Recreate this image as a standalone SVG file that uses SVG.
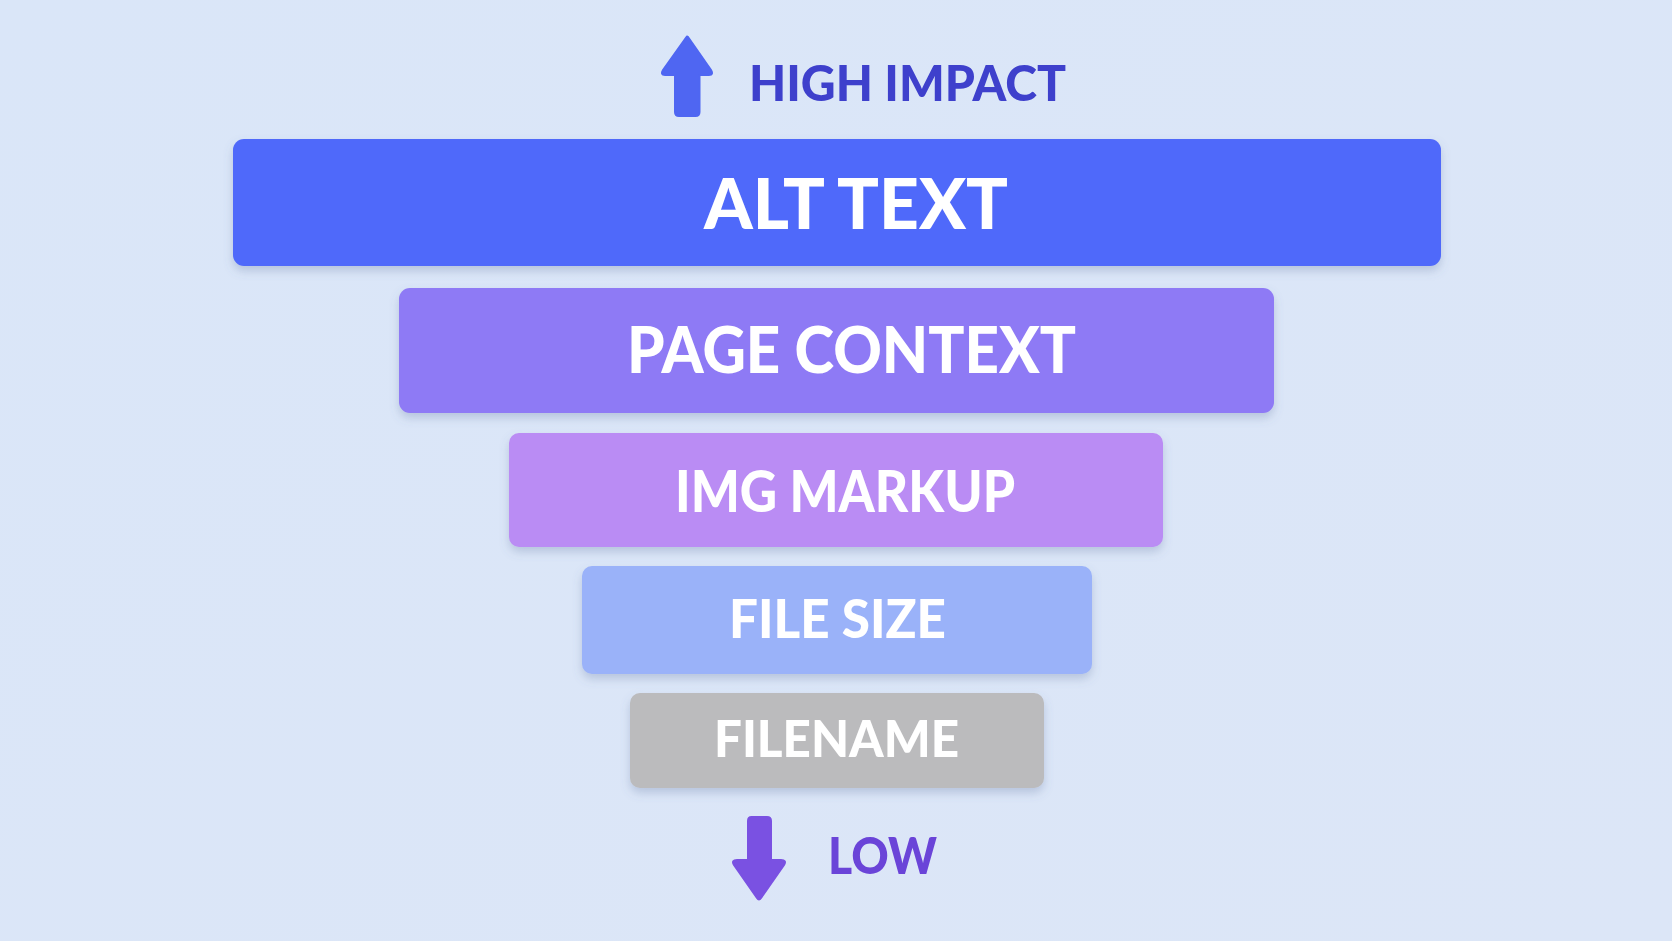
<svg xmlns="http://www.w3.org/2000/svg" width="1672" height="941" viewBox="0 0 1672 941">
  <defs>
    <linearGradient id="bg" x1="0" y1="0" x2="1" y2="1">
      <stop offset="0" stop-color="#DAE6F8"/>
      <stop offset="1" stop-color="#DCE6F7"/>
    </linearGradient>
    <filter id="sh" x="-10%" y="-30%" width="120%" height="170%">
      <feDropShadow dx="0" dy="5" stdDeviation="5" flood-color="#5a6e9a" flood-opacity="0.28"/>
    </filter>
  </defs>
  <style>
    .lbl { font-family: Lato, "Noto Sans", "Liberation Sans", sans-serif; font-weight: 900; fill: #FFFFFF; }
    .ax { font-family: Lato, "Noto Sans", "Liberation Sans", sans-serif; font-weight: 900; }
  </style>
  <rect x="0" y="0" width="1672" height="941" fill="url(#bg)"/>

  <g id="node-alt-text">
    <rect x="233" y="139" width="1208" height="127" rx="11" fill="#5069FA" filter="url(#sh)"/>
    <text class="lbl" x="704" y="229" font-size="70" textLength="304" lengthAdjust="spacingAndGlyphs">ALT TEXT</text>
  </g>
  <g id="node-page-context">
    <rect x="399" y="288" width="875" height="125" rx="11" fill="#8E7AF5" filter="url(#sh)"/>
    <text class="lbl" x="627" y="373" font-size="65" textLength="449" lengthAdjust="spacingAndGlyphs">PAGE CONTEXT</text>
  </g>
  <g id="node-img-markup">
    <rect x="509" y="433" width="654" height="114" rx="10" fill="#BA8CF4" filter="url(#sh)"/>
    <text class="lbl" x="675" y="512" font-size="58" textLength="340" lengthAdjust="spacingAndGlyphs">IMG MARKUP</text>
  </g>
  <g id="node-file-size">
    <rect x="582" y="566" width="510" height="108" rx="10" fill="#9AB2F9" filter="url(#sh)"/>
    <text class="lbl" x="729" y="638" font-size="53" textLength="217" lengthAdjust="spacingAndGlyphs">FILE SIZE</text>
  </g>
  <g id="node-filename">
    <rect x="630" y="693" width="414" height="95" rx="10" fill="#BBBBBD" filter="url(#sh)"/>
    <text class="lbl" x="714" y="757" font-size="51" textLength="245" lengthAdjust="spacingAndGlyphs">FILENAME</text>
  </g>

  <g id="connectors">
    <g id="arrow-up">
      <path d="M686.5 37 Q687 36 688 37 L711 70 Q714 75 709 75 L699.5 75 L699.5 112 Q699.5 116 695.5 116 L679 116 Q675 116 675 112 L675 75 L665 75 Q660 75 663 70 Z" fill="#4F66F2" stroke="#4F66F2" stroke-width="2" stroke-linejoin="round"/>
    </g>
    <g id="arrow-down">
      <path d="M751.5 817 L767 817 Q771 817 771 821 L771 860 L781 860 Q787 860 784 865 L761 898 Q759 901 757 898 L734 865 Q731 860 737 860 L748 860 L748 821 Q748 817 751.5 817 Z" fill="#7A51E2" stroke="#7A51E2" stroke-width="2" stroke-linejoin="round"/>
    </g>
  </g>

  <g id="label-high">
    <text class="ax" x="749" y="101" font-size="50" fill="#3E40CC" textLength="317" lengthAdjust="spacingAndGlyphs">HIGH IMPACT</text>
  </g>
  <g id="label-low">
    <text class="ax" x="828" y="874" font-size="51" fill="#6A44D8" textLength="109" lengthAdjust="spacingAndGlyphs">LOW</text>
  </g>
</svg>
